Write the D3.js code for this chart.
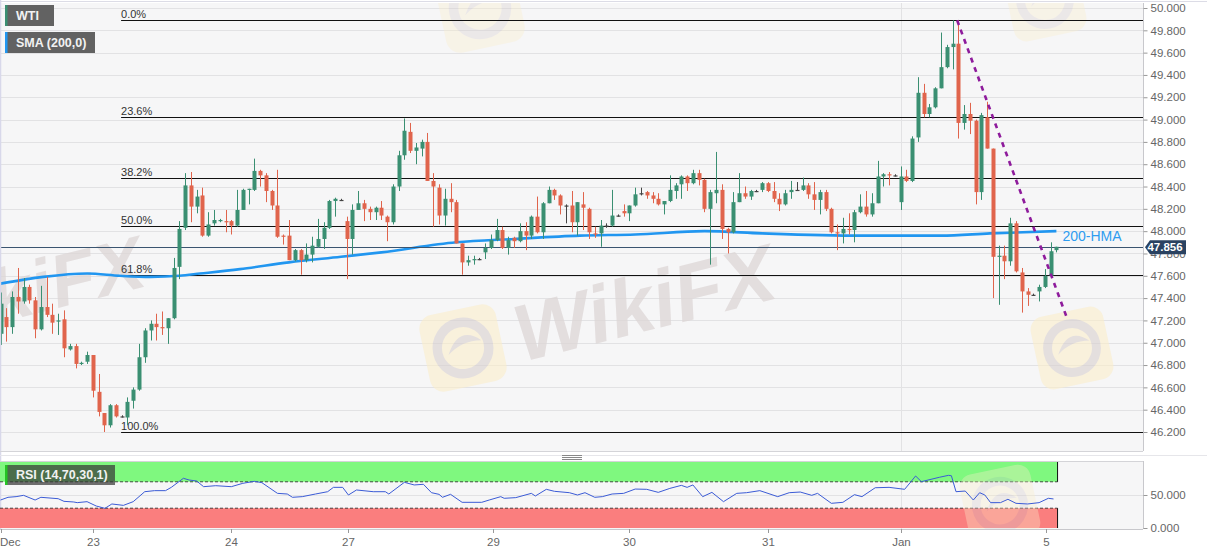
<!DOCTYPE html>
<html><head><meta charset="utf-8">
<script src="https://cdn.jsdelivr.net/npm/d3@7"></script>
<style>
body{margin:0;background:#fff;}
svg{display:block;font-family:"Liberation Sans",Arial,sans-serif;}
</style>
</head><body>
<svg id="c" width="1207" height="555"></svg>
<script>
// ---------------- DATA ----------------
const opens = [47.08,47.23,47.14,47.41,47.37,47.50,47.38,47.12,47.32,47.25,47.19,47.21,46.94,46.97,46.81,46.83,46.89,46.56,46.37,46.26,46.44,46.34,46.33,46.48,46.58,46.87,47.11,47.17,47.14,47.13,
47.22,47.68,48.03,48.41,48.22,48.32,47.96,48.07,48.09,48.09,48.09,48.05,48.19,48.37,48.37,48.54,48.50,48.36,48.23,47.96,47.96,47.74,47.83,47.74,47.79,47.86,47.93,48.03,48.27,48.28,
48.09,47.93,48.19,48.25,48.20,48.17,48.21,48.13,48.08,48.40,48.68,48.89,48.72,48.74,48.80,48.45,48.39,48.14,48.29,48.26,47.89,47.72,47.74,47.75,47.81,47.85,47.92,48.01,47.85,47.94,
47.91,48.00,47.96,48.13,47.99,48.25,48.37,48.32,48.23,48.23,48.08,48.24,48.20,47.98,47.98,48.05,48.05,48.14,48.18,48.16,48.23,48.34,48.35,48.32,48.29,48.24,48.27,48.36,48.42,48.49,
48.43,48.52,48.46,48.20,48.34,48.37,48.02,47.99,48.26,48.34,48.31,48.36,48.37,48.43,48.36,48.29,48.24,48.35,48.37,48.37,48.41,48.33,48.28,48.35,48.20,47.99,47.98,48.02,48.01,48.17,
48.22,48.15,48.25,48.49,48.51,48.50,48.26,48.49,48.45,48.84,49.24,49.05,49.11,49.28,49.47,49.65,49.68,48.97,49.05,48.99,48.35,49.02,48.74,47.77,47.78,47.73,48.07,47.63,47.46,47.43,
47.46,47.50,47.60,47.83];
const highs = [47.45,47.31,47.46,47.67,47.58,47.52,47.41,47.51,47.59,47.35,47.26,47.29,46.99,46.99,46.83,46.92,46.89,46.72,46.37,46.45,46.45,46.35,46.51,46.60,46.99,47.13,47.20,47.26,47.28,47.22,
47.76,48.09,48.52,48.53,48.37,48.39,48.17,48.19,48.11,48.19,48.10,48.37,48.38,48.38,48.65,48.55,48.52,48.37,48.55,47.97,48.10,47.84,47.84,47.89,47.95,48.11,48.08,48.28,48.30,48.29,
48.13,48.24,48.36,48.28,48.22,48.22,48.27,48.14,48.42,48.72,49.01,48.97,48.79,48.82,48.88,48.52,48.42,48.38,48.43,48.28,47.89,47.78,47.78,47.76,47.89,47.97,48.11,48.04,47.95,47.95,
48.07,48.08,48.14,48.31,48.26,48.40,48.38,48.33,48.24,48.36,48.26,48.35,48.21,48.04,48.10,48.07,48.37,48.15,48.24,48.23,48.39,48.39,48.36,48.35,48.34,48.27,48.50,48.43,48.50,48.50,
48.55,48.55,48.47,48.37,48.71,48.42,48.03,48.35,48.52,48.40,48.37,48.37,48.44,48.44,48.44,48.34,48.37,48.45,48.44,48.48,48.43,48.44,48.37,48.37,48.21,48.06,48.12,48.16,48.19,48.33,
48.36,48.34,48.63,48.52,48.53,48.51,48.58,48.55,48.85,49.38,49.32,49.14,49.29,49.78,49.67,49.89,49.89,49.13,49.15,49.00,49.06,49.16,48.74,47.87,47.87,48.12,48.09,47.67,47.49,47.44,
47.52,47.66,47.90,47.86];
const lows = [46.98,47.01,47.08,47.26,47.35,47.35,47.04,47.11,47.23,47.08,47.07,46.87,46.93,46.77,46.80,46.81,46.51,46.34,46.20,46.24,46.33,46.33,46.26,46.41,46.57,46.82,47.02,47.02,47.07,46.99,
47.21,47.57,48.01,48.08,48.16,47.95,47.95,48.05,48.08,47.99,47.97,48.04,48.19,48.24,48.36,48.40,48.26,48.19,47.94,47.88,47.74,47.73,47.61,47.72,47.72,47.85,47.84,48.02,48.13,48.27,
47.57,47.79,48.19,48.09,48.10,48.10,48.10,47.91,48.06,48.36,48.64,48.70,48.60,48.67,48.45,48.04,48.06,48.05,48.17,47.89,47.61,47.69,47.70,47.74,47.75,47.84,47.91,47.84,47.79,47.85,
47.90,47.83,47.93,47.98,47.93,48.25,48.28,48.15,48.07,47.99,47.96,48.01,47.93,47.94,47.86,48.03,48.04,48.13,48.13,48.09,48.22,48.32,48.29,48.25,48.23,48.15,48.26,48.29,48.29,48.36,
48.42,48.41,48.17,47.70,48.25,47.93,47.80,47.98,48.26,48.29,48.28,48.35,48.35,48.35,48.26,48.18,48.23,48.29,48.36,48.36,48.29,48.19,48.15,48.18,47.98,47.83,47.89,47.97,47.90,48.16,
48.13,48.13,48.25,48.40,48.41,48.49,48.19,48.44,48.44,48.80,49.02,49.02,49.10,49.28,49.46,49.45,48.83,48.91,48.87,48.24,48.28,48.74,47.40,47.34,47.57,47.69,47.63,47.27,47.33,47.42,
47.37,47.49,47.60,47.81];
const closes = [47.35,47.14,47.41,47.37,47.50,47.38,47.12,47.32,47.25,47.18,47.20,46.95,46.97,46.81,46.82,46.89,46.57,46.38,46.26,46.44,46.34,46.34,46.47,46.58,46.87,47.11,47.17,47.14,47.13,47.22,
47.67,48.02,48.41,48.22,48.31,47.96,48.06,48.10,48.10,48.08,48.05,48.19,48.37,48.38,48.54,48.50,48.36,48.23,47.95,47.95,47.74,47.83,47.74,47.79,47.87,47.93,48.03,48.27,48.29,48.28,
47.93,48.19,48.25,48.20,48.17,48.21,48.14,48.08,48.40,48.68,48.90,48.72,48.75,48.80,48.45,48.40,48.14,48.29,48.26,47.89,47.72,47.74,47.75,47.75,47.85,47.92,48.01,47.85,47.92,47.91,
48.00,47.96,48.13,47.99,48.25,48.37,48.32,48.23,48.23,48.08,48.26,48.21,47.99,47.97,48.05,48.05,48.14,48.14,48.16,48.23,48.33,48.34,48.32,48.29,48.24,48.27,48.37,48.41,48.49,48.43,
48.52,48.46,48.20,48.35,48.37,48.02,47.99,48.26,48.34,48.31,48.36,48.36,48.43,48.36,48.29,48.24,48.34,48.37,48.37,48.41,48.33,48.28,48.35,48.20,47.99,47.98,48.02,48.01,48.17,48.22,
48.15,48.25,48.49,48.51,48.50,48.50,48.49,48.45,48.83,49.24,49.05,49.11,49.28,49.47,49.65,49.68,48.97,49.05,48.99,48.35,49.04,48.74,47.77,47.78,47.73,48.07,47.64,47.46,47.43,47.43,
47.50,47.60,47.82,47.86];

const smaIdx = [0,7.4,15,20.7,26,31,34.6,41.5,50,59,66,79,89,100.4,110,122,132,149,163,171.5,183];
const smaVal = [47.53,47.59,47.62,47.60,47.59,47.60,47.62,47.66,47.72,47.77,47.81,47.90,47.93,47.96,47.97,48.00,47.98,47.96,47.96,47.98,48.00];

const rsiIdx = [0,1.3,2.7,4,6,7,10,11,12.7,13.3,15,16.6,18.1,19.3,21.3,23,25,26.7,28.6,29.6,31.7,32.7,34,35.2,37.3,40,42,44,45.3,48,49.7,50.6,52.3,54.6,56.7,57.7,59.3,60.3,61.7,64.6,66.7,67.3,70,71.7,73.3,74.7,76,76.6,78,80,83.4,84.7,86.7,87.3,89.3,92,92.7,94.6,96,98.6,100,101.3,103,104.3,106,108,110,112,114,116,118,119,120,121.7,123.3,125.3,127.6,129.3,131.6,134.7,136.7,138.6,140.6,141.6,144,146,148,149.3,151.6,154,156.7,158.6,159.6,162.7,164.3,164.8,165.6,167.2,168.6,169.7,170.6,171.6,173.3,174.6,176,178,180,181.6,182.5];
const rsiVal = [42.4,46.5,47.5,49.5,42.4,46.5,44.4,40.4,39.4,38.4,39.9,33.3,29.8,36.4,34.3,39.9,55,56.6,56.6,61.6,75.3,72.7,71.2,62.6,64.1,62.6,67.7,70.7,68.7,52.5,51.5,46.5,47.5,51.5,55,61.6,61.6,50,57.6,55,55,51.5,69.2,65.2,66.2,53.5,51,46.5,51,38.9,38.9,42.4,47.5,45,46,52.5,48.5,58.6,55.6,53.5,50,53.5,46.5,47.5,51.5,52.5,59,58.6,54,60,64.6,61.6,65.2,47.5,54,39.9,52.5,53.5,56.6,47.5,53.5,54.5,49.5,52.5,37.4,38.9,50.5,47.5,61,61.6,58.6,78.8,70.2,76.8,79.8,79.2,55,56,42.4,53.5,50,38.4,38.4,43.5,37.4,36.4,38.4,45,44];

const fibPct = [0, 23.6, 38.2, 50, 61.8, 100];
const fibLabels = ["0.0%","23.6%","38.2%","50.0%","61.8%","100.0%"];
const fibHigh = 49.89, fibLow = 46.20;
const fibStartIdx = 20.9;

const priceTicks = [46.2,46.4,46.6,46.8,47.0,47.2,47.4,47.6,47.8,48.0,48.2,48.4,48.6,48.8,49.0,49.2,49.4,49.6,49.8,50.0];
const rsiTicks = [0, 50];
const dateLabels = ["Dec","23","24","27","29","30","31","Jan","5"];
const dateIdx = [0, 16, 40, 60.2, 85.4, 109, 133, 156, 181.2];

const trendIdx = [165.8, 184.7];
const trendVal = [49.89, 47.24];
const lastPrice = 47.856;
const smaLabel = "200-HMA";

// ---------------- LAYOUT ----------------
const W = 1207, H = 555;
const plotR = 1143;
const main = {top: 3, bottom: 451};
const rsiP = {top: 461, bottom: 529};
const GREEN = "#3a8f72", RED = "#e0644c";

const svg = d3.select("#c");
const x = d3.scaleLinear().domain([0, 183]).range([0.5, 1056.4]);
const y = d3.scaleLinear().domain([46.2, 50]).range([432, 8]);
const yr = d3.scaleLinear().domain([0, 100]).range([528, 462]);

const defs = svg.append("defs");
defs.append("clipPath").attr("id","clipMain").append("rect")
  .attr("x",0).attr("y",main.top).attr("width",plotR).attr("height",main.bottom-main.top);
defs.append("clipPath").attr("id","clipRsi").append("rect")
  .attr("x",0).attr("y",rsiP.top).attr("width",plotR).attr("height",rsiP.bottom-rsiP.top);

// backgrounds
svg.append("rect").attr("x",0).attr("y",main.top).attr("width",plotR).attr("height",main.bottom-main.top).attr("fill","#f6f6f7");
svg.append("rect").attr("x",0).attr("y",rsiP.top).attr("width",plotR).attr("height",rsiP.bottom-rsiP.top).attr("fill","#f6f6f7");

// grid
svg.append("g").selectAll("line").data(priceTicks).join("line")
  .attr("x1",0).attr("x2",plotR).attr("y1",d=>Math.round(y(d))+0.5).attr("y2",d=>Math.round(y(d))+0.5)
  .attr("stroke","#e2e2e4").attr("stroke-width",1);
svg.append("line").attr("x1",0).attr("x2",plotR).attr("y1",Math.round(yr(50))+0.5).attr("y2",Math.round(yr(50))+0.5)
  .attr("stroke","#e2e2e4");
[main, rsiP].forEach(p=>{
  svg.append("line").attr("x1",Math.round(x(dateIdx[7]))+0.5).attr("x2",Math.round(x(dateIdx[7]))+0.5)
    .attr("y1",p.top).attr("y2",p.bottom).attr("stroke","#e2e2e4");
});

// watermarks
const wm = svg.append("g").attr("clip-path","url(#clipMain)").attr("pointer-events","none");
function logo(g, cx, cy, s, op){
  const gg = g.append("g").attr("transform",`translate(${cx},${cy}) rotate(-12)`).attr("opacity",op);
  gg.append("rect").attr("x",-s/2).attr("y",-s/2).attr("width",s).attr("height",s).attr("rx",s*0.18)
    .attr("fill","#fbeecb");
  gg.append("circle").attr("r",s*0.33).attr("fill","none").attr("stroke","#d9d0cf").attr("stroke-width",s*0.12);
  gg.append("path").attr("d",`M${-s*0.2},${s*0.05} Q0,${-s*0.3} ${s*0.25},${-s*0.05} Q0,${-s*0.1} ${-s*0.2},${s*0.05}Z`).attr("fill","#d9d0cf");
}
function wtext(g, tx, ty, size){
  g.append("text").attr("transform",`translate(${tx},${ty}) rotate(-14)`)
    .attr("font-size",size).attr("font-weight","bold").attr("font-style","italic")
    .attr("fill","#ddd6d6").attr("opacity",0.75).text("WikiFX");
}
logo(wm, 463, 348, 78, 0.6);
logo(wm, 1072, 348, 74, 0.6);
logo(wm, 480, 8, 80, 0.35);
logo(wm, 1045, 0, 74, 0.35);
wtext(wm, 522, 362, 80);
wtext(wm, -90, 345, 74);

// fib lines
const fibG = svg.append("g");
fibPct.forEach((p,k)=>{
  const v = fibHigh - (fibHigh-fibLow)*p/100;
  const yy = Math.round(y(v))+0.5;
  fibG.append("line").attr("x1",x(fibStartIdx)).attr("x2",plotR).attr("y1",yy).attr("y2",yy)
    .attr("stroke","#111").attr("stroke-width",1.2);
  fibG.append("text").attr("x",x(fibStartIdx)).attr("y",yy-3).attr("font-size",11).attr("fill","#333").text(fibLabels[k]);
});

// SMA line
const smaPts = smaIdx.map((d,i)=>[d, smaVal[i]]);
svg.append("path").datum(smaPts)
  .attr("d", d3.line().x(d=>x(d[0])).y(d=>y(d[1])).curve(d3.curveMonotoneX))
  .attr("fill","none").attr("stroke","#2196f0").attr("stroke-width",2.6);

// current price line
svg.append("line").attr("x1",0).attr("x2",plotR).attr("y1",Math.round(y(lastPrice))+0.5).attr("y2",Math.round(y(lastPrice))+0.5)
  .attr("stroke","#3a5470").attr("stroke-width",1);

// candles
const data = opens.map((o,i)=>({i, o, h:highs[i], l:lows[i], c:closes[i]}));
const col = d => d.c > d.o ? GREEN : (d.c < d.o ? RED : "#444");
const cg = svg.append("g").attr("clip-path","url(#clipMain)");
cg.selectAll("line").data(data).join("line")
  .attr("x1",d=>Math.round(x(d.i))+0.5).attr("x2",d=>Math.round(x(d.i))+0.5)
  .attr("y1",d=>y(d.h)).attr("y2",d=>y(d.l)).attr("stroke",col).attr("stroke-width",1);
cg.selectAll("rect").data(data).join("rect")
  .attr("x",d=>Math.round(x(d.i))-1.5).attr("width",4)
  .attr("y",d=>y(Math.max(d.o,d.c)))
  .attr("height",d=>Math.max(1.2, Math.abs(y(d.o)-y(d.c))))
  .attr("fill",col);

// trendline
svg.append("g").attr("clip-path","url(#clipMain)").append("line")
  .attr("x1",x(trendIdx[0])).attr("y1",y(trendVal[0])).attr("x2",x(trendIdx[1])).attr("y2",y(trendVal[1]))
  .attr("stroke","#8e1b9c").attr("stroke-width",2.6).attr("stroke-dasharray","5,5");

// SMA label
svg.append("text").attr("x",x(183)+6).attr("y",y(smaVal[smaVal.length-1])+10)
  .attr("font-size",14).attr("fill","#2e9cf0").text(smaLabel);

// borders & axis
svg.append("line").attr("x1",0).attr("x2",W).attr("y1",1.5).attr("y2",1.5).attr("stroke","#dcdce6");
svg.append("line").attr("x1",0.5).attr("x2",0.5).attr("y1",0).attr("y2",rsiP.bottom).attr("stroke","#d8d8ea").attr("stroke-width",1.5);
svg.append("line").attr("x1",0).attr("x2",plotR).attr("y1",main.bottom+0.5).attr("y2",main.bottom+0.5).attr("stroke","#d4d4d8");
svg.append("line").attr("x1",0).attr("x2",plotR).attr("y1",rsiP.top+0.5).attr("y2",rsiP.top+0.5).attr("stroke","#d4d4d8");
svg.append("line").attr("x1",0).attr("x2",plotR).attr("y1",rsiP.bottom+0.5).attr("y2",rsiP.bottom+0.5).attr("stroke","#c8c8cc");
svg.append("line").attr("x1",0).attr("x2",W).attr("y1",455.5).attr("y2",455.5).attr("stroke","#e6e6ea");
[455,457,459].forEach(yy=>svg.append("line").attr("x1",562).attr("x2",582).attr("y1",yy+0.5).attr("y2",yy+0.5).attr("stroke","#888"));

const yAxis = d3.axisRight(y).tickValues(priceTicks).tickFormat(d3.format(".3f")).tickSize(4).tickPadding(3);
const ya = svg.append("g").attr("transform",`translate(${plotR+0.5},0)`).call(yAxis);
ya.select(".domain").attr("stroke","#c8c8cc").attr("d",`M0,${main.top}V${main.bottom}`);
ya.selectAll(".tick line").attr("stroke","#999");
ya.selectAll(".tick text").attr("fill","#666").attr("font-size",11.5).attr("font-family","Liberation Sans, Arial, sans-serif");

// price badge
const by = y(lastPrice);
svg.append("path").attr("d",`M${plotR+2},${by} L${plotR+7},${by-7} H1186 V${by+7} H${plotR+7} Z`).attr("fill","#2a4261");
svg.append("text").attr("x",1165).attr("y",by+4).attr("text-anchor","middle").attr("font-size",11.5).attr("font-weight","bold")
  .attr("fill","#fff").text(lastPrice.toFixed(3));

// legend
function legendBox(xx, yy, w, h, txt, stripe, fill){
  svg.append("rect").attr("x",xx).attr("y",yy).attr("width",w).attr("height",h).attr("fill",fill);
  svg.append("rect").attr("x",xx).attr("y",yy).attr("width",2.5).attr("height",h).attr("fill",stripe);
  svg.append("text").attr("x",xx+11).attr("y",yy+h/2+4.5).attr("font-size",12.5).attr("font-weight","bold").attr("fill","#f2f2f2").text(txt);
}
legendBox(5,5,49,21,"WTI","#3a8f72","#626262");
legendBox(5,32,90,21,"SMA (200,0)","#2196f0","#626262");

// RSI panel
const bandEnd = x(183.2);
svg.append("rect").attr("x",0).attr("y",yr(100)).attr("width",bandEnd).attr("height",yr(70)-yr(100)).attr("fill","#7ff87f");
svg.append("rect").attr("x",0).attr("y",yr(30)).attr("width",bandEnd).attr("height",yr(0)-yr(30)).attr("fill","#fa7e7e");
svg.append("line").attr("x1",0).attr("x2",bandEnd).attr("y1",yr(70)).attr("y2",yr(70)).attr("stroke","#222").attr("stroke-dasharray","3,2").attr("stroke-width",0.8);
svg.append("line").attr("x1",0).attr("x2",bandEnd).attr("y1",yr(30)).attr("y2",yr(30)).attr("stroke","#222").attr("stroke-dasharray","3,2").attr("stroke-width",0.8);
svg.append("line").attr("x1",bandEnd).attr("x2",bandEnd).attr("y1",yr(100)).attr("y2",yr(70)).attr("stroke","#111");
svg.append("line").attr("x1",bandEnd).attr("x2",bandEnd).attr("y1",yr(30)).attr("y2",yr(0)).attr("stroke","#111");
const wm2 = svg.append("g").attr("clip-path","url(#clipRsi)");
logo(wm2, 1000, 505, 72, 0.35);

const rsiPts = rsiIdx.map((d,i)=>[d, rsiVal[i]]);
svg.append("path").datum(rsiPts).attr("clip-path","url(#clipRsi)")
  .attr("d", d3.line().x(d=>x(d[0])).y(d=>yr(d[1])))
  .attr("fill","none").attr("stroke","#3b5bd6").attr("stroke-width",1);

svg.append("rect").attr("x",5).attr("y",465).attr("width",110).attr("height",20).attr("fill","rgba(55,55,55,0.72)");
svg.append("rect").attr("x",5).attr("y",465).attr("width",2.5).attr("height",20).attr("fill","#24c424");
svg.append("text").attr("x",16).attr("y",479).attr("font-size",12.5).attr("font-weight","bold").attr("fill","#f2f2f2").text("RSI (14,70,30,1)");

const yrAxis = d3.axisRight(yr).tickValues(rsiTicks).tickFormat(d3.format(".3f")).tickSize(4).tickPadding(3);
const yra = svg.append("g").attr("transform",`translate(${plotR+0.5},0)`).call(yrAxis);
yra.select(".domain").attr("stroke","#c8c8cc").attr("d",`M0,${rsiP.top}V${rsiP.bottom}`);
yra.selectAll(".tick line").attr("stroke","#999");
yra.selectAll(".tick text").attr("fill","#666").attr("font-size",11.5).attr("font-family","Liberation Sans, Arial, sans-serif");

// date axis
const xa = svg.append("g");
dateIdx.forEach((d,k)=>{
  const xx = Math.round(x(d))+0.5;
  xa.append("line").attr("x1",xx).attr("x2",xx).attr("y1",rsiP.bottom).attr("y2",rsiP.bottom+4).attr("stroke","#999");
  xa.append("text").attr("x", k===0 ? 0 : xx).attr("y",546).attr("text-anchor", k===0 ? "start" : "middle")
    .attr("font-size",11.5).attr("fill","#666").text(dateLabels[k]);
});
</script>
</body></html>
